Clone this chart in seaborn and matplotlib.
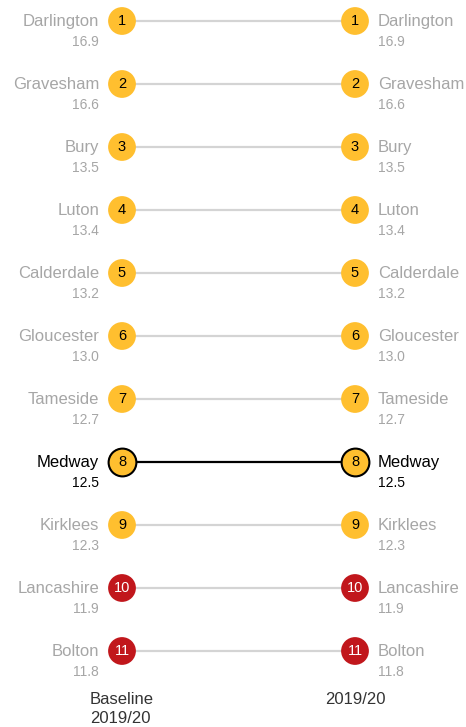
import matplotlib
matplotlib.use('Agg')
import matplotlib.pyplot as plt
import seaborn as sns
import pandas as pd

# Data
councils = ['Darlington', 'Gravesham', 'Bury', 'Luton', 'Calderdale', 'Gloucester',
            'Tameside', 'Medway', 'Kirklees', 'Lancashire', 'Bolton']
baseline_values = [16.9, 16.6, 13.5, 13.4, 13.2, 13.0, 12.7, 12.5, 12.3, 11.9, 11.8]
current_values = [16.9, 16.6, 13.5, 13.4, 13.2, 13.0, 12.7, 12.5, 12.3, 11.9, 11.8]
baseline_rank = [1, 2, 3, 4, 5, 6, 7, 8, 9, 10, 11]
current_rank = [1, 2, 3, 4, 5, 6, 7, 8, 9, 10, 11]
band = ['mid', 'mid', 'mid', 'mid', 'mid', 'mid', 'mid', 'mid', 'mid', 'low', 'low']
periods = ['Baseline\n2019/20', '2019/20']
highlight = 'Medway'

YELLOW = '#FFBF2F'
RED = '#C1171C'
GREY_TEXT = '#A6A6A6'
GREY_LINE = '#D4D4D4'

rows = []
for i, name in enumerate(councils):
    for p, (rank, val) in enumerate([(baseline_rank[i], baseline_values[i]),
                                     (current_rank[i], current_values[i])]):
        rows.append({'council': name, 'x': p, 'rank': rank, 'value': val,
                     'band': band[i], 'hl': name == highlight})
df = pd.DataFrame(rows)

sns.set_style('white')
plt.rcParams['font.family'] = ['Liberation Sans', 'DejaVu Sans']

fig = plt.figure(figsize=(4.66, 7.27), dpi=100)
ax = fig.add_axes([0, 0, 1, 1])

# connecting lines
sns.lineplot(data=df[~df['hl']], x='x', y='rank', units='council', estimator=None,
             color=GREY_LINE, linewidth=1.6, ax=ax, zorder=1)
sns.lineplot(data=df[df['hl']], x='x', y='rank', units='council', estimator=None,
             color='black', linewidth=1.6, ax=ax, zorder=1)

# circles
sns.scatterplot(data=df, x='x', y='rank', hue='band', palette={'mid': YELLOW, 'low': RED},
                s=400, linewidth=0, legend=False, ax=ax, zorder=2)
sns.scatterplot(data=df[df['hl']], x='x', y='rank', color=YELLOW, s=400,
                edgecolor='black', linewidth=1.5, legend=False, ax=ax, zorder=3)

for _, r in df.iterrows():
    txt_col = 'white' if r['band'] == 'low' else 'black'
    ax.text(r['x'], r['rank'], str(int(r['rank'])), ha='center', va='center',
            fontsize=10.5, color=txt_col, zorder=4)
    lab_col = 'black' if r['hl'] else GREY_TEXT
    if r['x'] == 0:
        dx, ha = -16.5, 'right'
    else:
        dx, ha = 16.5, 'left'
    ax.annotate(r['council'], (r['x'], r['rank']), xytext=(dx, 0),
                textcoords='offset points', ha=ha, va='center', fontsize=12, color=lab_col)
    ax.annotate(f"{r['value']:.1f}", (r['x'], r['rank']), xytext=(dx, -15),
                textcoords='offset points', ha=ha, va='center', fontsize=10, color=lab_col)

for p, lab in enumerate(periods):
    ax.text(p, 11.65, lab, ha='center', va='top', fontsize=12, color='#333333',
            linespacing=1.3, multialignment='left')

ax.set_xlim(-122 / 233, 344 / 233)
ax.set_ylim(1 + (727 - 21) / 63, 1 - 21 / 63)
ax.set_axis_off()

plt.savefig('out.png', dpi=100)
plt.close()
